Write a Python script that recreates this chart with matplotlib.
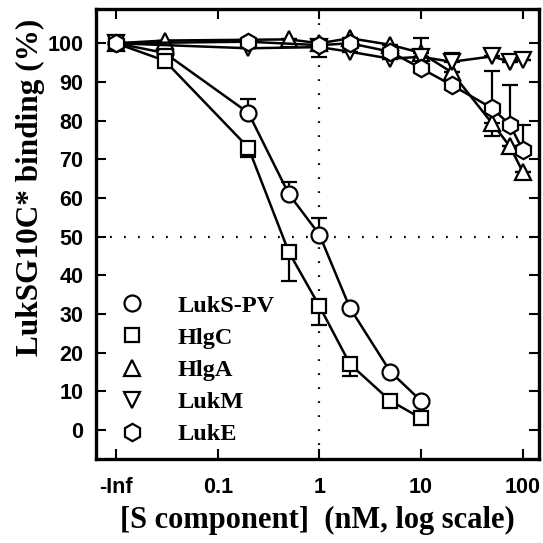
import matplotlib.pyplot as plt
from matplotlib.lines import Line2D
import numpy as np

# -Inf is drawn at 0.01 (one decade left of 0.1)
x_lukspv = [0.01, 0.03, 0.2, 0.5, 1, 2, 5, 10]
y_lukspv = [100, 97.5, 82, 61, 50.5, 31.5, 15, 7.5]
lo_lukspv = [0, 0, 0, 0, 0, 0, 0, 0]
hi_lukspv = [0, 0, 3.5, 3, 4.3, 0, 0, 0]

x_hlgc = [0.01, 0.03, 0.2, 0.5, 1, 2, 5, 10]
y_hlgc = [100, 95.5, 73, 46, 32, 17, 7.5, 3]
lo_hlgc = [0, 0, 2.5, 7.6, 5, 3, 0, 0]
hi_hlgc = [0, 0, 0, 0, 0, 0, 0, 0]

x_hlga = [0.01, 0.03, 0.5, 1, 2, 5, 10, 20, 50, 75, 100]
y_hlga = [100, 100.7, 101, 100, 101.3, 99.6, 97.5, 92.5, 79.3, 73.3, 66.8]
lo_hlga = [0, 0, 0, 3.5, 0, 0, 0, 0, 3.3, 0, 0]
hi_hlga = [0, 0, 0, 0, 0, 0, 3.8, 0, 0, 0, 0]

x_lukm = [0.01, 0.2, 1, 2, 5, 10, 20, 50, 75, 100]
y_lukm = [100, 98.7, 99, 97.8, 96, 96.5, 95.2, 96.6, 95.2, 95.7]
lo_lukm = [0, 0, 0, 0, 0, 0, 0, 0, 0, 0]
hi_lukm = [0, 0, 0, 0, 0, 0, 2.2, 0, 0, 0]

x_luke = [0.01, 0.2, 1, 2, 5, 10, 20, 50, 75, 100]
y_luke = [100, 100.4, 99.5, 100, 97.8, 93.5, 89.2, 83.2, 78.9, 72.4]
lo_luke = [0, 0, 0, 0, 0, 0, 0, 0, 0, 0]
hi_luke = [0, 0, 0, 0, 0, 0, 0, 9.5, 10.3, 6.5]

labels = ['LukS-PV', 'HlgC', 'HlgA', 'LukM', 'LukE']
markers = ['o', 's', '^', 'v', 'h']
msizes = [11.5, 10.5, 12, 12, 12.5]

xticks = [0.01, 0.1, 1, 10, 100]
xticklabels = ['-Inf', '0.1', '1', '10', '100']

series = [(x_lukspv, y_lukspv, lo_lukspv, hi_lukspv),
          (x_hlgc, y_hlgc, lo_hlgc, hi_hlgc),
          (x_hlga, y_hlga, lo_hlga, hi_hlga),
          (x_lukm, y_lukm, lo_lukm, hi_lukm),
          (x_luke, y_luke, lo_luke, hi_luke)]

serif = ['Liberation Serif', 'DejaVu Serif']
sans = ['Liberation Sans', 'DejaVu Sans']

fig = plt.figure(figsize=(5.43, 5.43), dpi=100)
ax = fig.add_axes([0.177, 0.155, 0.816, 0.828])

ax.axhline(50, color='k', lw=1.6, ls=(0, (0.8, 5.5)), zorder=1)
ax.axvline(1, color='k', lw=1.6, ls=(0, (0.8, 5.5)), zorder=1)

for i, (x, y, lo, hi) in enumerate(series):
    ax.errorbar(x, y, yerr=[lo, hi], color='k', lw=1.8, elinewidth=1.6,
                capsize=6, capthick=1.6, marker=markers[i], ms=msizes[i],
                mfc='white', mec='k', mew=1.6, zorder=2 + i)

ax.set_xscale('log')
ax.set_xlim(0.00635, 145.5)
ax.set_ylim(-7.5, 108.8)
ax.set_xticks(xticks)
ax.set_xticklabels(xticklabels)
ax.set_yticks(np.arange(0, 101, 10))
ax.minorticks_off()
ax.tick_params(direction='in', length=7, width=1.5, top=True, right=True,
               pad=9, labelsize=15.5)
ax.tick_params(axis='x', pad=13)
for lab in ax.get_xticklabels() + ax.get_yticklabels():
    lab.set_family(sans)
    lab.set_weight('bold')
for sp in ax.spines.values():
    sp.set_linewidth(2.4)

ax.set_xlabel('[S component]  (nM, log scale)', family=serif,
              fontweight='bold', fontsize=22, labelpad=6)
fig.text(0.057, 0.655, 'LukSG10C* binding (%)', rotation=90, family=serif,
         fontweight='bold', fontsize=22.5, ha='center', va='center')

handles = [Line2D([], [], ls='none', marker=markers[i], ms=msizes[i],
                  mfc='white', mec='k', mew=1.6) for i in range(5)]
ax.legend(handles, labels, loc='lower left', frameon=False,
          prop={'family': serif, 'weight': 'bold', 'size': 17.5},
          handlelength=1.0, handletextpad=1.4, labelspacing=0.42,
          borderaxespad=0.15, bbox_to_anchor=(0.023, 0.0))

fig.savefig('out.png', dpi=100)
